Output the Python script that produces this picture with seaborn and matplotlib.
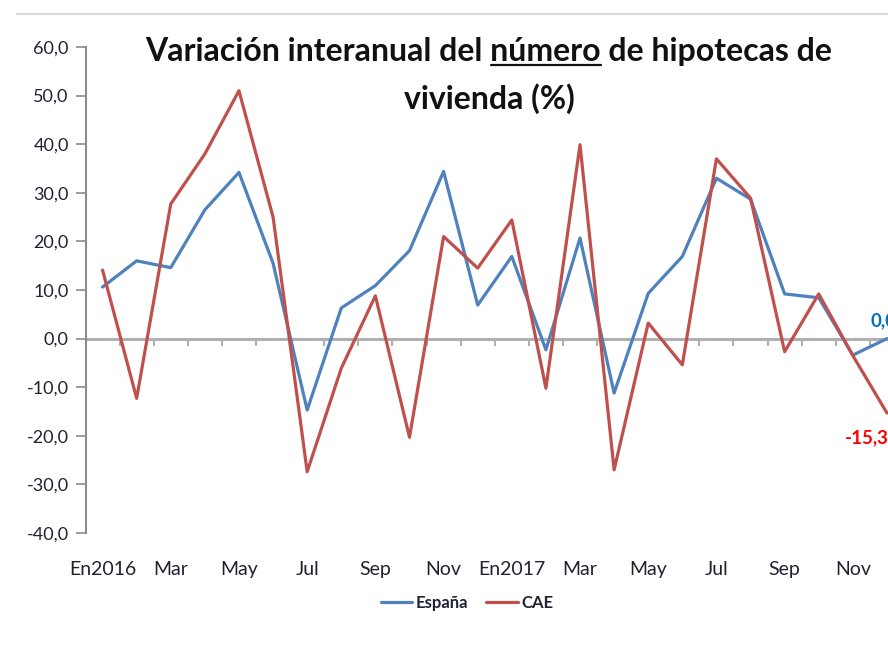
import numpy as np
import pandas as pd
import matplotlib
matplotlib.use("Agg")
import matplotlib.pyplot as plt
import seaborn as sns
from matplotlib.lines import Line2D

# data (Jan 2016 .. Dec 2017)
months = ["En2016", "Feb", "Mar", "Abr", "May", "Jun", "Jul", "Ago", "Sep", "Oct", "Nov", "Dic",
          "En2017", "Feb", "Mar", "Abr", "May", "Jun", "Jul", "Ago", "Sep", "Oct", "Nov", "Dic"]
espana = [10.6, 16.0, 14.6, 26.5, 34.2, 15.5, -14.7, 6.3, 10.9, 18.1, 34.4, 6.9,
          16.9, -2.3, 20.7, -11.2, 9.3, 16.9, 33.0, 28.7, 9.2, 8.4, -3.4, 0.0]
cae = [14.1, -12.3, 27.7, 38.0, 51.0, 25.0, -27.4, -6.1, 8.8, -20.3, 21.0, 14.5,
       24.4, -10.2, 39.9, -27.0, 3.2, -5.4, 37.0, 28.9, -2.7, 9.2, -3.5, -15.3]
series_names = ["España", "CAE"]
yticks = np.arange(-40, 61, 10)

BLUE = "#4F81BD"
RED = "#C0504D"
TXT = "#1f2233"

df = pd.DataFrame({
    "idx": list(range(len(months))) * 2,
    "valor": espana + cae,
    "serie": [series_names[0]] * len(espana) + [series_names[1]] * len(cae),
})

sns.set_theme(style="white")
plt.rcParams["font.family"] = ["Lato", "DejaVu Sans"]

fig = plt.figure(figsize=(8.88, 6.51), dpi=100)
ax = fig.add_axes([85.5 / 888, 118 / 651, 818.5 / 888, 486 / 651])

sns.lineplot(data=df, x="idx", y="valor", hue="serie", palette=[BLUE, RED],
             linewidth=2.3, ax=ax, legend=True)

ax.set_xlim(-0.5, len(months) - 0.5)
ax.set_ylim(-40, 60)
ax.set_xlabel("")
ax.set_ylabel("")

# y axis
ax.set_yticks(yticks)
ax.set_yticklabels([f"{v:.1f}".replace(".", ",") for v in yticks], fontsize=13, color=TXT)
ax.tick_params(axis="y", direction="out", length=7, width=1.2, color="#8c8c8c", pad=5, left=True)
for s in ["top", "right", "bottom"]:
    ax.spines[s].set_visible(False)
ax.spines["left"].set_color("#8c8c8c")
ax.spines["left"].set_linewidth(1.5)

# x labels at bottom, every second month
ax.set_xticks(range(0, len(months), 2))
ax.set_xticklabels(months[::2], fontsize=14, color=TXT)
ax.tick_params(axis="x", length=0, pad=20, bottom=True)

# zero line with category tick marks
zero_frac = (0 - ax.get_ylim()[0]) / (ax.get_ylim()[1] - ax.get_ylim()[0])
sec = ax.secondary_xaxis(zero_frac)
sec.set_xticks(np.arange(-0.5, len(months), 1))
sec.set_xticklabels([])
sec.tick_params(direction="out", length=5, width=1.2, color="#a0a0a0")
sec.spines["bottom"].set_color("#b0b0b0")
sec.spines["bottom"].set_linewidth(2.2)
sec.set_zorder(1)
ax.set_zorder(2)
ax.patch.set_visible(False)

# data labels on the last point (cut by the right edge, as in the source)
ax.annotate(f"{espana[-1]:.1f}".replace(".", ","), (len(months) - 1, espana[-1]),
            xytext=(-12, 12.5), textcoords="offset points", color="#0070C0",
            fontsize=13.5, fontweight="bold", ha="left", va="center")
ax.annotate(f"{cae[-1]:.1f}".replace(".", ","), (len(months) - 1, cae[-1]),
            xytext=(-30, -18), textcoords="offset points", color="#FF0000",
            fontsize=13.5, fontweight="bold", ha="left", va="center")

# legend
sns.move_legend(ax, "center", bbox_to_anchor=(467 / 888, 1 - 603 / 651),
                bbox_transform=fig.transFigure, ncol=2, frameon=False, title=None,
                fontsize=12, handlelength=1.9, columnspacing=1.1, handletextpad=0.2)
for t in ax.get_legend().get_texts():
    t.set_fontweight("bold")
    t.set_color(TXT)

# title, two lines, "número" underlined
title_kw = dict(fontsize=23, fontweight="bold", color="#111111", ha="center", va="center")
line1 = "Variación interanual del número de hipotecas de"
t1 = fig.text(489 / 888, 1 - 52 / 651, line1, **title_kw)
fig.text(489 / 888, 1 - 99 / 651, "vivienda (%)", **title_kw)

fig.canvas.draw()
r = fig.canvas.get_renderer()
bb = t1.get_window_extent(r)
tmp = fig.text(0, 0, "Variación interanual del número", **{k: v for k, v in title_kw.items() if k not in ("ha", "va")})
w_full = tmp.get_window_extent(r).width
tmp.set_text("número")
w_word = tmp.get_window_extent(r).width
tmp.remove()
x_end = bb.x0 + w_full
x_start = x_end - w_word
y_u = bb.y0 + 2
fig.add_artist(Line2D([x_start / 888, x_end / 888], [y_u / 651, y_u / 651],
                      transform=fig.transFigure, color="#111111", linewidth=1.6))

# thin border line at top of the chart area
fig.add_artist(Line2D([17 / 888, 1.0], [1 - 14 / 651, 1 - 14 / 651],
                      transform=fig.transFigure, color="#d9d9d9", linewidth=1.5))

fig.savefig("out.png", dpi=100)
